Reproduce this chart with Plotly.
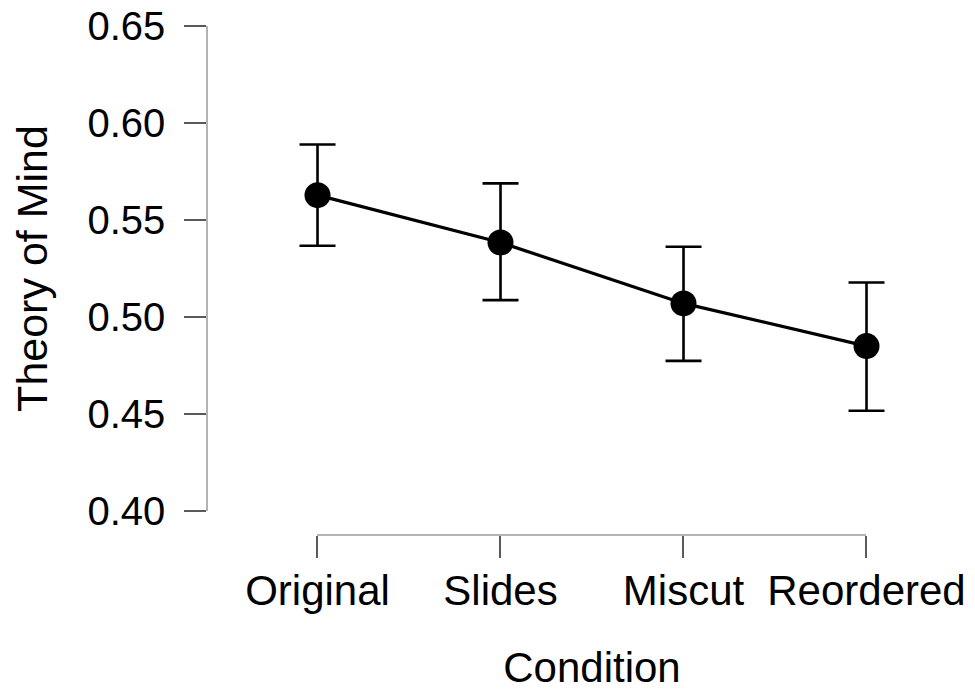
import plotly.graph_objects as go

conditions = ["Original", "Slides", "Miscut", "Reordered"]
means = [0.5628, 0.5384, 0.5070, 0.4850]
upper = [0.5889, 0.5689, 0.5362, 0.5178]
lower = [0.5367, 0.5087, 0.4774, 0.4517]
y_ticks = [0.40, 0.45, 0.50, 0.55, 0.60, 0.65]
y_ticklabels = ["0.40", "0.45", "0.50", "0.55", "0.60", "0.65"]

xpos = list(range(1, len(conditions) + 1))
err_plus = [u - m for u, m in zip(upper, means)]
err_minus = [m - l for m, l in zip(means, lower)]

FONT = "Liberation Sans, Arial, sans-serif"
AXIS_LINE = "#b3b3b3"
TICK_COL = "#5a5a5a"

fig = go.Figure()
# dummy trace so the bracket-style category axis is drawn
fig.add_trace(go.Scatter(x=[None], y=[None], xaxis="x2", yaxis="y",
                         showlegend=False, hoverinfo="skip"))
fig.add_trace(go.Scatter(
    x=xpos, y=means, mode="lines+markers",
    line=dict(color="black", width=3.2),
    marker=dict(color="black", size=26),
    error_y=dict(type="data", symmetric=False, array=err_plus, arrayminus=err_minus,
                 color="black", thickness=2.6, width=18),
    showlegend=False, xaxis="x", yaxis="y", cliponaxis=False,
))

fig.update_layout(
    width=967, height=686,
    margin=dict(l=200, r=35, t=18, b=159, autoexpand=False),
    paper_bgcolor="white", plot_bgcolor="rgba(0,0,0,0)",
    font=dict(family=FONT, color="black"),
    xaxis=dict(range=[0.4016, 4.4016], visible=False, domain=[0, 1], automargin=False),
    xaxis2=dict(
        domain=[0.14959, 0.89959], range=[1, 4], anchor="free", position=0,
        tickmode="array", tickvals=xpos, ticktext=conditions,
        showline=True, linecolor=AXIS_LINE, linewidth=1.5,
        ticks="outside", ticklen=22, tickwidth=1.5, tickcolor=TICK_COL,
        tickfont=dict(size=42, family=FONT, color="black"),
        ticklabelstandoff=-3, automargin=False, ticklabeloverflow="allow",
        showgrid=False, zeroline=False,
        title=dict(text="Condition", font=dict(size=42, family=FONT, color="black"), standoff=38),
    ),
    yaxis=dict(
        domain=[0.04715, 1], range=[0.40, 0.65], anchor="x",
        tickmode="array", tickvals=y_ticks, ticktext=y_ticklabels,
        showline=True, linecolor=AXIS_LINE, linewidth=1.5,
        ticks="outside", ticklen=22, tickwidth=1.5, tickcolor=TICK_COL,
        tickfont=dict(size=40, family=FONT, color="black"),
        ticklabelstandoff=11, automargin=False, ticklabeloverflow="allow",
        showgrid=False, zeroline=False,
        title=dict(text="Theory of Mind", font=dict(size=43, family=FONT, color="black"), standoff=27),
    ),
)

fig.write_html("out.html")
